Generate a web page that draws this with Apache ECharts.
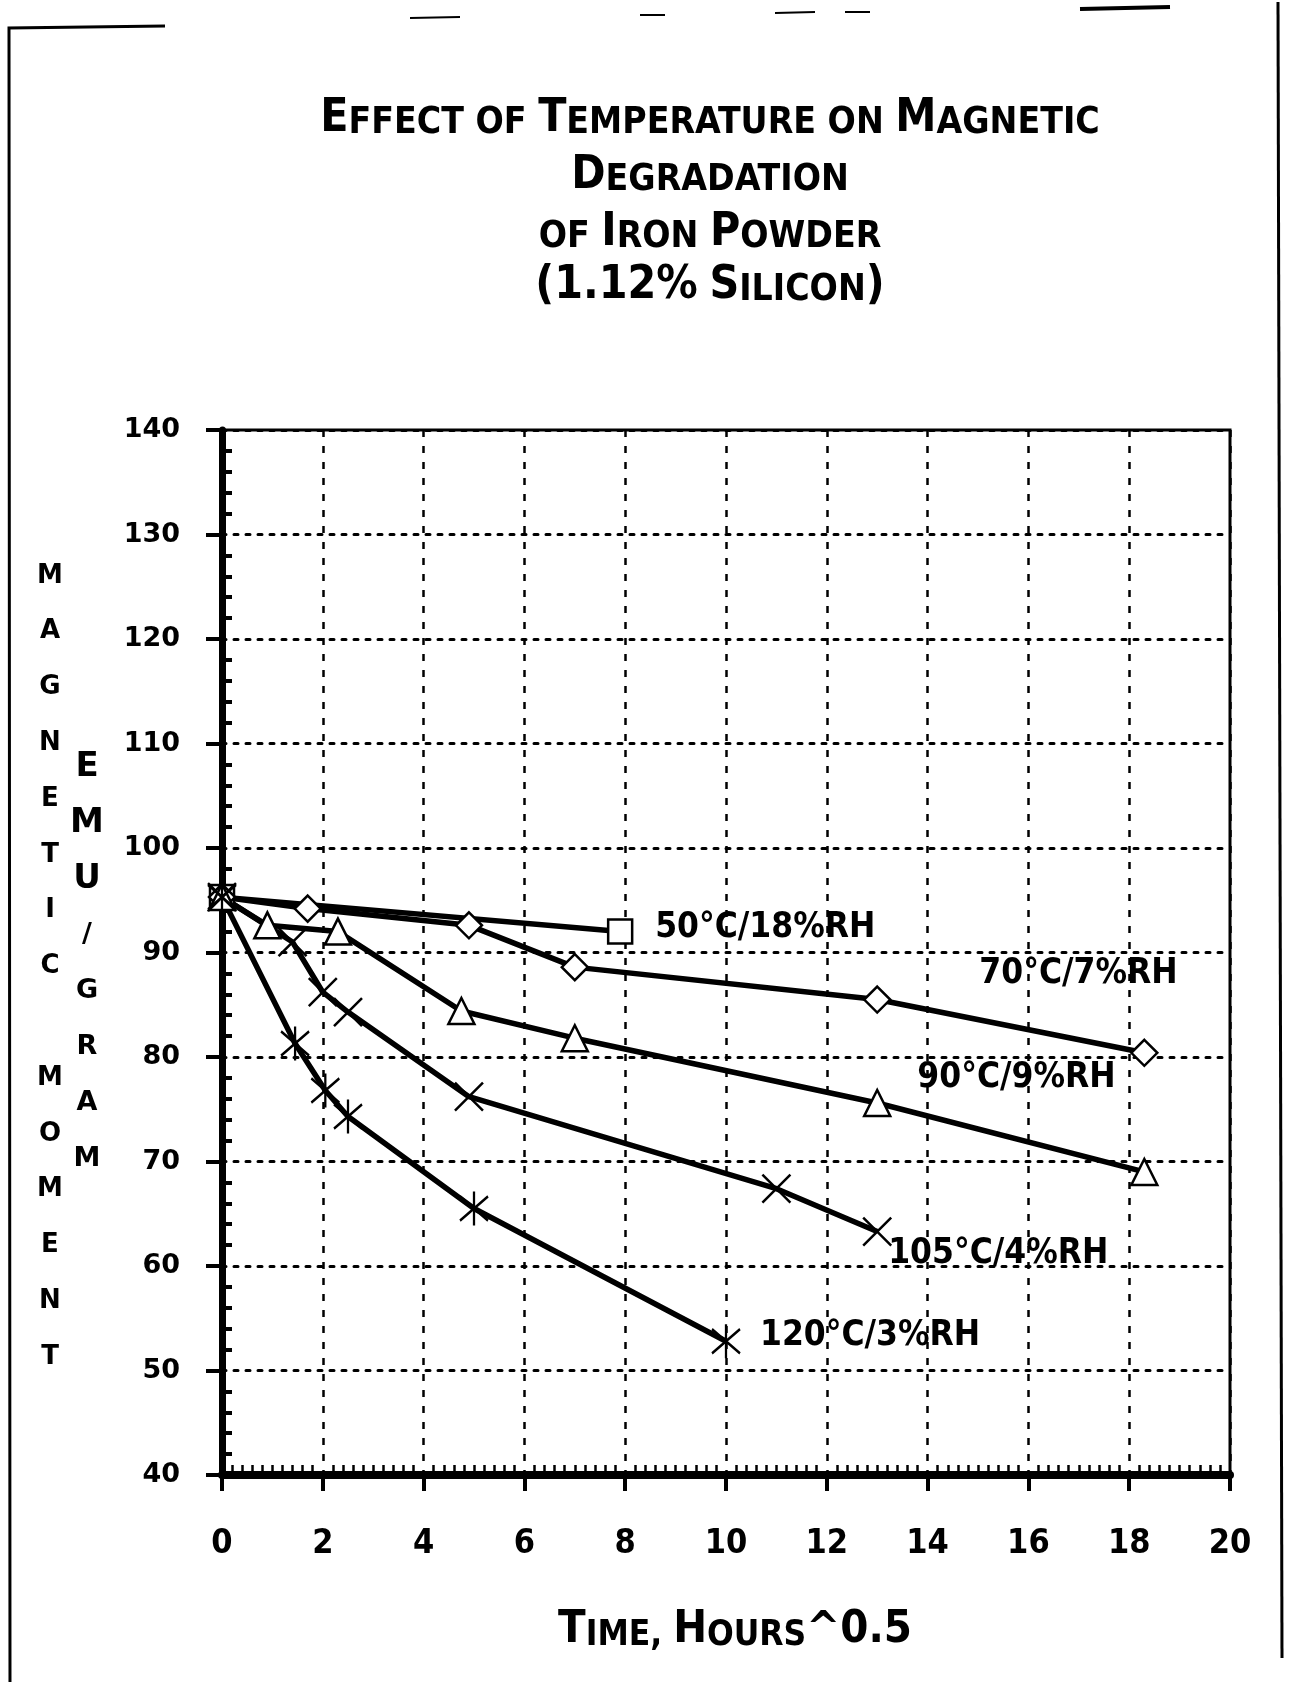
<!DOCTYPE html>
<html>
<head>
<meta charset="utf-8">
<script src="https://cdn.jsdelivr.net/npm/echarts@6/dist/echarts.min.js"></script>
<style>
  html, body { margin: 0; background: #fff; }
  #chart { width: 1308px; height: 1682px; }
</style>
</head>
<body>
<div id="chart"></div>
<script>
// values: [time (hours^0.5), magnetic moment (emu/gram)]
var s50 = [[0, 95.3], [7.9, 92.0]];
var s70 = [[0, 95.3], [1.7, 94.2], [4.9, 92.6], [7.0, 88.6], [13.0, 85.5], [18.3, 80.4]];
var s90 = [[0, 95.3], [0.9, 92.6], [2.3, 92.0], [4.75, 84.4], [7.0, 81.8], [13.0, 75.6], [18.3, 69.0]];
var s105 = [[0, 95.3], [1.4, 91.0], [2.0, 86.2], [2.5, 84.3], [4.9, 76.2], [11.0, 67.4], [13.0, 63.3]];
var s120 = [[0, 95.3], [1.45, 81.3], [2.05, 76.8], [2.5, 74.3], [5.0, 65.5], [10.0, 52.8]];
var names = ['50°C/18%RH', '70°C/7%RH', '90°C/9%RH', '105°C/4%RH', '120°C/3%RH'];

var narrow = "'Liberation Sans Narrow', 'DejaVu Sans Condensed', sans-serif";
var cond = "'DejaVu Sans Condensed', sans-serif";
var wide = "'DejaVu Sans', sans-serif";

var crossPath = 'path://M0,0L10,10M10,0L0,10';
var starPath = 'path://M0,2L10,12M10,2L0,12M5,0L5,14';

function makeLine(name, data, symbol, size, offset) {
  return {
    name: name,
    type: 'line',
    data: data,
    symbol: symbol,
    symbolSize: size,
    showAllSymbol: true,
    lineStyle: { color: '#000', width: 5.5 },
    itemStyle: { color: '#fff', borderColor: '#000', borderWidth: 2.5 },
    endLabel: {
      show: true,
      formatter: function () { return name; },
      distance: 0,
      offset: offset,
      color: '#000',
      fontFamily: narrow,
      fontWeight: 'bold',
      fontSize: 35,
      align: 'left',
      verticalAlign: 'middle'
    }
  };
}

var titleRich = {
  b: { fontFamily: cond, fontWeight: 'bold', fontSize: 46, color: '#000', verticalAlign: 'bottom' },
  s: { fontFamily: cond, fontWeight: 'bold', fontSize: 37, color: '#000', verticalAlign: 'bottom' }
};
function titleLine(text, y) {
  return {
    type: 'text', x: 710, y: y,
    style: {
      text: text, rich: titleRich, align: 'center', verticalAlign: 'bottom',
      fontFamily: cond, fontWeight: 'bold', fontSize: 37, fill: '#000'
    }
  };
}

var myChart = echarts.init(document.getElementById('chart'));
var option = {
  animation: false,
  backgroundColor: '#fff',
  grid: {
    left: 222, right: 78, top: 430, bottom: 207,
    show: true, borderColor: '#000', borderWidth: 3
  },
  xAxis: {
    type: 'value', min: 0, max: 20, interval: 2,
    axisLine: { lineStyle: { color: '#000', width: 8 } },
    axisTick: { length: 16, lineStyle: { color: '#000', width: 4 } },
    minorTick: { show: true, splitNumber: 10, length: -10, lineStyle: { color: '#000', width: 2.5 } },
    splitLine: { lineStyle: { color: '#000', width: 2.5, type: [7, 9] } },
    axisLabel: { margin: 52, color: '#000', fontFamily: narrow, fontWeight: 'bold', fontSize: 34 }
  },
  yAxis: {
    type: 'value', min: 40, max: 140, interval: 10,
    axisLine: { lineStyle: { color: '#000', width: 7 } },
    axisTick: { length: 16, lineStyle: { color: '#000', width: 4 } },
    minorTick: { show: true, splitNumber: 5, length: -10, lineStyle: { color: '#000', width: 4 } },
    splitLine: { lineStyle: { color: '#000', width: 3, type: [4, 8], cap: 'round' } },
    axisLabel: { margin: 42, color: '#000', fontFamily: wide, fontWeight: 'bold', fontSize: 27 }
  },
  series: [
    makeLine(names[0], s50, 'rect', 24, [35, -4]),
    makeLine(names[1], s70, 'diamond', 26, [-165, -79]),
    makeLine(names[2], s90, 'triangle', 26, [-227, -94]),
    makeLine(names[3], s105, crossPath, 28, [11, 22]),
    makeLine(names[4], s120, starPath, [28, 34], [34, -5])
  ],
  graphic: [
    titleLine('{b|E}{s|FFECT} {s|OF} {b|T}{s|EMPERATURE} {s|ON} {b|M}{s|AGNETIC}', 142),
    titleLine('{b|D}{s|EGRADATION}', 199),
    titleLine('{s|OF} {b|I}{s|RON} {b|P}{s|OWDER}', 256),
    titleLine('{b|(1.12%} {b|S}{s|ILICON}{b|)}', 309),
    {
      type: 'text', x: 735, y: 1653,
      style: {
        text: '{b|T}{s|IME,} {b|H}{s|OURS}{b|^0.5}', rich: {
          b: { fontFamily: cond, fontWeight: 'bold', fontSize: 45, color: '#000', verticalAlign: 'bottom' },
          s: { fontFamily: cond, fontWeight: 'bold', fontSize: 35, color: '#000', verticalAlign: 'bottom' }
        },
        align: 'center', verticalAlign: 'bottom', fontFamily: cond, fontWeight: 'bold', fontSize: 35, fill: '#000'
      }
    },
    {
      type: 'text', x: 50, y: 548,
      style: {
        text: 'M\nA\nG\nN\nE\nT\nI\nC\n\nM\nO\nM\nE\nN\nT',
        fontFamily: wide, fontWeight: 'bold', fontSize: 26, lineHeight: 55.8,
        align: 'center', verticalAlign: 'top', fill: '#000'
      }
    },
    {
      type: 'text', x: 87, y: 739,
      style: {
        text: '{b|E}\n{b|M}\n{b|U}\n{s|/}\n{s|G}\n{s|R}\n{s|A}\n{s|M}',
        rich: {
          b: { fontFamily: wide, fontWeight: 'bold', fontSize: 34, lineHeight: 56, color: '#000' },
          s: { fontFamily: wide, fontWeight: 'bold', fontSize: 27, lineHeight: 56, color: '#000' }
        },
        align: 'center', verticalAlign: 'top', fill: '#000'
      }
    },
    // scanned page frame
    { type: 'polyline', shape: { points: [[10, 1682], [9, 28], [165, 26]] }, style: { stroke: '#000', lineWidth: 3, fill: null } },
    { type: 'line', shape: { x1: 410, y1: 18, x2: 460, y2: 17 }, style: { stroke: '#000', lineWidth: 2 } },
    { type: 'line', shape: { x1: 640, y1: 15, x2: 665, y2: 15 }, style: { stroke: '#000', lineWidth: 2 } },
    { type: 'line', shape: { x1: 775, y1: 13, x2: 815, y2: 12 }, style: { stroke: '#000', lineWidth: 2 } },
    { type: 'line', shape: { x1: 845, y1: 12, x2: 870, y2: 12 }, style: { stroke: '#000', lineWidth: 2 } },
    { type: 'line', shape: { x1: 1080, y1: 9, x2: 1170, y2: 7 }, style: { stroke: '#000', lineWidth: 4 } },
    { type: 'line', shape: { x1: 1278, y1: 2, x2: 1282, y2: 1658 }, style: { stroke: '#000', lineWidth: 3 } }
  ]
};

myChart.setOption(option);
window.addEventListener('resize', function () {
  myChart.resize();
});
</script>
</body>
</html>
